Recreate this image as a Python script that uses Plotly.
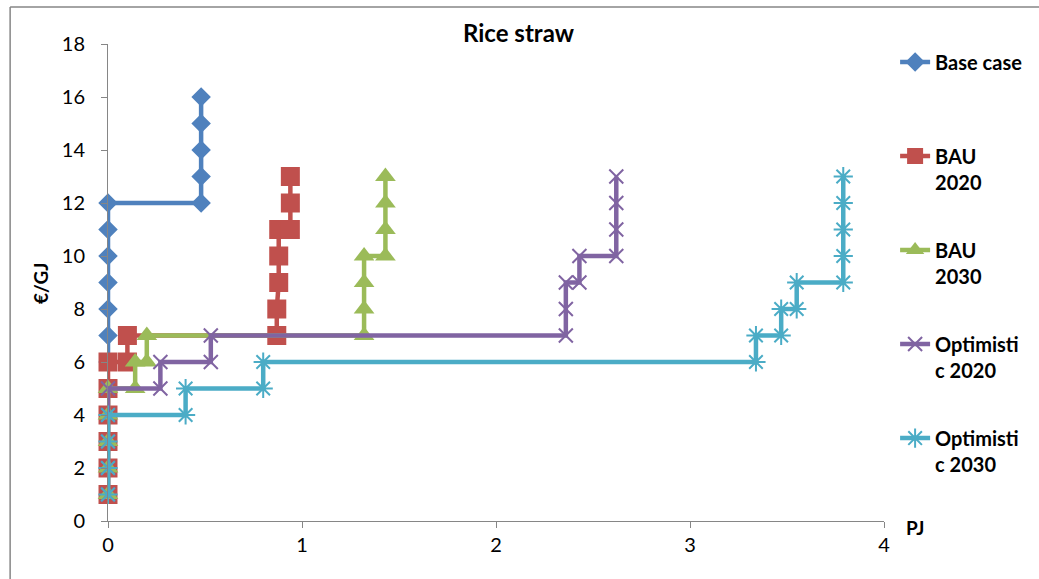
import plotly.graph_objects as go

# ---- data (PJ, €/GJ) ----
base_x = [0, 0, 0, 0, 0, 0, 0, 0.48, 0.48, 0.48, 0.48, 0.48]
base_y = [6, 7, 8, 9, 10, 11, 12, 12, 13, 14, 15, 16]

bau20_x = [0, 0, 0, 0, 0, 0, 0.10, 0.10, 0.87, 0.87, 0.88, 0.88, 0.88, 0.94, 0.94, 0.94]
bau20_y = [1, 2, 3, 4, 5, 6, 6, 7, 7, 8, 9, 10, 11, 11, 12, 13]

bau30_x = [0, 0, 0, 0, 0, 0.14, 0.14, 0.20, 0.20, 1.32, 1.32, 1.32, 1.32, 1.43, 1.43, 1.43, 1.43]
bau30_y = [1, 2, 3, 4, 5, 5, 6, 6, 7, 7, 8, 9, 10, 10, 11, 12, 13]

opt20_x = [0, 0, 0, 0, 0, 0.27, 0.27, 0.53, 0.53, 2.36, 2.36, 2.36, 2.43, 2.43, 2.62, 2.62, 2.62, 2.62]
opt20_y = [1, 2, 3, 4, 5, 5, 6, 6, 7, 7, 8, 9, 9, 10, 10, 11, 12, 13]

opt30_x = [0, 0, 0, 0, 0.40, 0.40, 0.80, 0.80, 3.34, 3.34, 3.47, 3.47, 3.55, 3.55, 3.79, 3.79, 3.79, 3.79, 3.79]
opt30_y = [1, 2, 3, 4, 4, 5, 5, 6, 6, 7, 7, 8, 8, 9, 9, 10, 11, 12, 13]

names = ["Base case", "BAU<br>2020", "BAU<br>2030", "Optimisti<br>c 2020", "Optimisti<br>c 2030"]
colors = ["#4F81BD", "#C0504D", "#9BBB59", "#8064A2", "#4BACC6"]

x_ticks = [0, 1, 2, 3, 4]
y_ticks = [0, 2, 4, 6, 8, 10, 12, 14, 16, 18]

FONT = "Lato"

series = [
    (base_x, base_y, dict(symbol="diamond", size=15, color=colors[0])),
    (bau20_x, bau20_y, dict(symbol="square", size=19, color=colors[1])),
    (bau30_x, bau30_y, dict(symbol="triangle-up", size=18, color=colors[2])),
    (opt20_x, opt20_y, dict(symbol="x-thin-open", size=14, color=colors[3],
                            line=dict(width=2, color=colors[3]))),
    (opt30_x, opt30_y, dict(symbol="asterisk-open", size=16, color=colors[4],
                            line=dict(width=2, color=colors[4]))),
]

fig = go.Figure()
for i, (xs, ys, mk) in enumerate(series):
    fig.add_trace(go.Scatter(
        x=xs, y=ys, mode="lines+markers",
        name=(names[i] + "<br>\u00a0") if i == 0 else names[i],
        legendgroup="g%d" % i,
        line=dict(color=colors[i], width=4.5),
        marker=mk,
        cliponaxis=False,
    ))

fig.update_layout(
    width=1039, height=579,
    margin=dict(l=108, r=154, t=44, b=58),
    paper_bgcolor="white", plot_bgcolor="white",
    font=dict(family=FONT, size=20, color="black"),
    showlegend=True,
    legend=dict(
        x=1.013, y=1.003, xanchor="left", yanchor="top",
        font=dict(family=FONT, size=20, color="black", weight="bold"),
        tracegroupgap=39, valign="top", bgcolor="rgba(0,0,0,0)",
        maxheight=560,
    ),
    xaxis=dict(
        range=[0, 4], tickvals=x_ticks, ticktext=[str(v) for v in x_ticks],
        showgrid=False, zeroline=False, showline=True, linecolor="#868686", linewidth=1,
        ticks="outside", ticklen=6, tickcolor="#868686",
        tickfont=dict(family=FONT, size=20, color="black"),
    ),
    yaxis=dict(
        range=[0, 18], tickvals=y_ticks, ticktext=[str(v) for v in y_ticks],
        showgrid=False, zeroline=False, showline=True, linecolor="#868686", linewidth=1,
        ticks="outside", ticklen=6, tickcolor="#868686", ticklabelstandoff=12,
        tickfont=dict(family=FONT, size=20, color="black"),
    ),
)

# convert pixel positions to paper positions for text placement
def px(xpix):
    return (xpix - 108) / 777.0

def py(ypix):
    return (521 - ypix) / 477.0

fig.add_annotation(text="<b>Rice straw</b>", x=px(520), y=py(32), xref="paper", yref="paper",
                   xanchor="center", yanchor="middle",
                   showarrow=False, font=dict(family=FONT, size=24, color="black"))
fig.add_annotation(text="<b>PJ</b>", x=px(916), y=py(527), xref="paper", yref="paper",
                   xanchor="center", yanchor="middle",
                   showarrow=False, font=dict(family=FONT, size=19, color="black"))
fig.add_annotation(text="<b>€/GJ</b>", x=px(40), y=py(283), xref="paper", yref="paper",
                   xanchor="center", yanchor="middle",
                   textangle=-90, showarrow=False, font=dict(family=FONT, size=19, color="black"))

# chart frame (left and top edges visible in the reference)
fig.add_shape(type="line", xref="paper", yref="paper", x0=px(10), x1=px(10), y0=py(590), y1=py(7),
              line=dict(color="#868686", width=1.5))
fig.add_shape(type="line", xref="paper", yref="paper", x0=px(10), x1=px(1045), y0=py(7), y1=py(7),
              line=dict(color="#868686", width=1.5))

fig.write_html("out.html")
